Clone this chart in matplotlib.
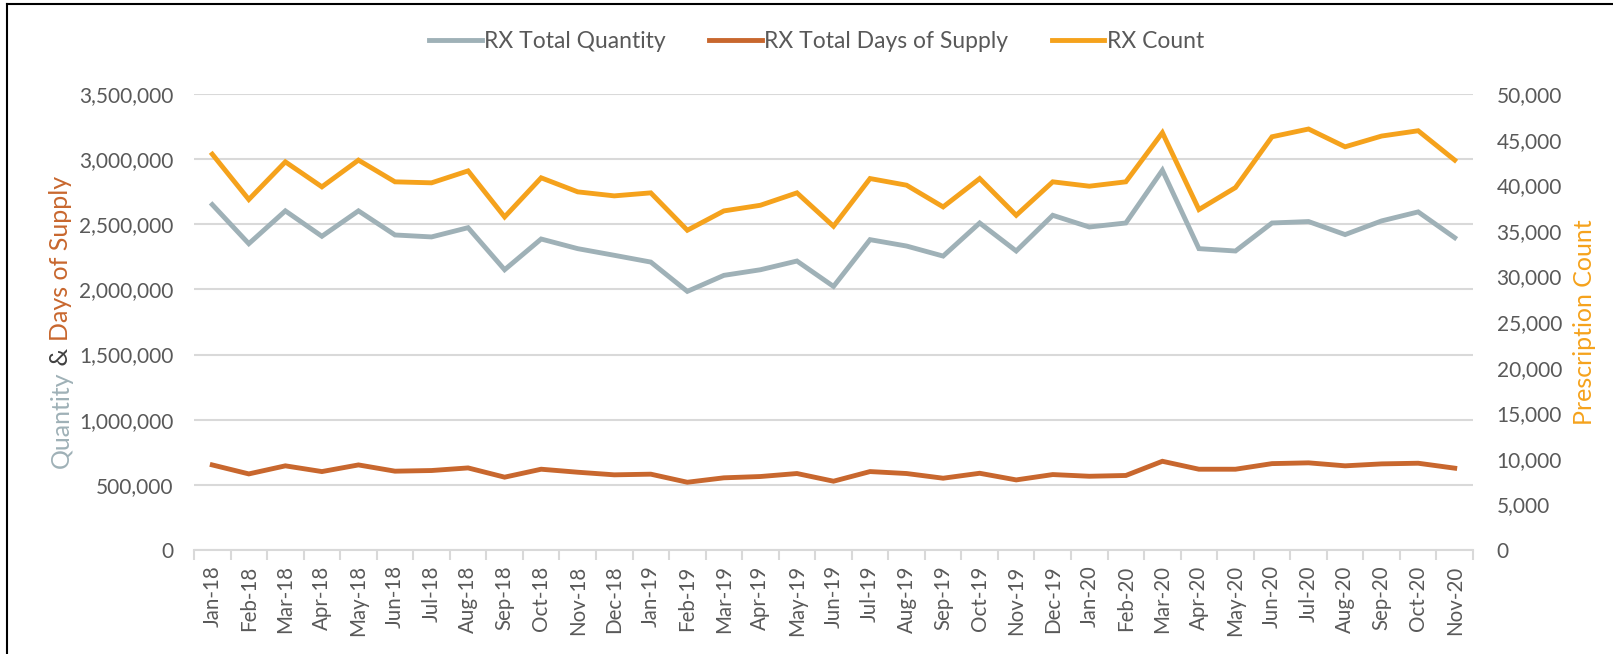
import matplotlib
matplotlib.use("Agg")
import matplotlib.pyplot as plt
from matplotlib.ticker import FuncFormatter, MultipleLocator
from matplotlib.lines import Line2D

months = ["Jan-18", "Feb-18", "Mar-18", "Apr-18", "May-18", "Jun-18", "Jul-18", "Aug-18",
          "Sep-18", "Oct-18", "Nov-18", "Dec-18", "Jan-19", "Feb-19", "Mar-19", "Apr-19",
          "May-19", "Jun-19", "Jul-19", "Aug-19", "Sep-19", "Oct-19", "Nov-19", "Dec-19",
          "Jan-20", "Feb-20", "Mar-20", "Apr-20", "May-20", "Jun-20", "Jul-20", "Aug-20",
          "Sep-20", "Oct-20", "Nov-20"]

rx_total_quantity = [2651000, 2351000, 2603000, 2408000, 2603000, 2418000, 2403000, 2474000,
                     2151000, 2387000, 2313000, 2262000, 2210000, 1985000, 2108000, 2151000,
                     2218000, 2023000, 2382000, 2333000, 2256000, 2510000, 2295000, 2569000,
                     2479000, 2510000, 2915000, 2313000, 2295000, 2510000, 2521000, 2421000,
                     2526000, 2595000, 2397000]

rx_days_supply = [653000, 584000, 646000, 602000, 653000, 605000, 610000, 630000,
                  559000, 620000, 597000, 577000, 582000, 520000, 554000, 564000,
                  587000, 528000, 602000, 587000, 551000, 589000, 538000, 579000,
                  566000, 572000, 681000, 620000, 620000, 663000, 669000, 646000,
                  661000, 666000, 628000]

rx_count = [43400, 38430, 42560, 39820, 42750, 40370, 40260, 41570,
            36520, 40810, 39270, 38830, 39160, 35060, 37180, 37800,
            39160, 35500, 40730, 40000, 37620, 40730, 36700, 40370,
            39890, 40370, 45760, 37330, 39740, 45310, 46160, 44210,
            45390, 45970, 42750]

C_QTY = "#9FB1B7"
C_DAYS = "#C8672E"
C_CNT = "#F5A21C"
C_TXT = "#595959"
C_GRID = "#D9D9D9"
FONT = "Lato"

plt.rcParams["font.family"] = [FONT, "DejaVu Sans"]

fig = plt.figure(figsize=(16.13, 6.54), dpi=100)
ax = fig.add_axes([194/1613, 1-550/654, (1473-194)/1613, (550-94)/654])
ax2 = ax.twinx()

x = list(range(len(months)))
lw = 3.5
l1, = ax.plot(x, rx_total_quantity, color=C_QTY, lw=lw, solid_joinstyle="miter", zorder=3)
l2, = ax.plot(x, rx_days_supply, color=C_DAYS, lw=lw, solid_joinstyle="miter", zorder=3)
l3, = ax2.plot(x, rx_count, color=C_CNT, lw=lw, solid_joinstyle="miter", zorder=3)

ax.set_xlim(-0.5, len(months) - 0.5)
ax.set_ylim(0, 3500000)
ax2.set_ylim(0, 50000)
ax.yaxis.set_major_locator(MultipleLocator(500000))
ax2.yaxis.set_major_locator(MultipleLocator(5000))
fmt = FuncFormatter(lambda v, p: f"{int(round(v)):,}")
ax.yaxis.set_major_formatter(fmt)
ax2.yaxis.set_major_formatter(fmt)

ax.grid(axis="y", color=C_GRID, lw=1.5, zorder=0)
ax.set_axisbelow(True)

for a in (ax, ax2):
    for s in ("top", "right", "left", "bottom"):
        a.spines[s].set_visible(False)
ax.spines["bottom"].set_visible(True)
ax.spines["bottom"].set_color(C_GRID)
ax.spines["bottom"].set_linewidth(1.5)

ax.set_xticks(x)
ax.set_xticklabels(months, rotation=90, fontsize=14.8, color=C_TXT)
ax.tick_params(axis="x", length=0, pad=11)
ax.set_xticks([i + 0.5 for i in range(-1, len(months))], minor=True)
ax.tick_params(axis="x", which="minor", length=7, width=1.5, color=C_GRID)

ax.tick_params(axis="y", length=0, pad=15, labelsize=15, labelcolor=C_TXT)
ax2.tick_params(axis="y", length=0, pad=17, labelsize=15, labelcolor=C_TXT)

fig.legend([l1, l2, l3], ["RX Total Quantity", "RX Total Days of Supply", "RX Count"],
           loc="center", bbox_to_anchor=(0.5 + 10/1613, 1-42/654), ncol=3, frameon=False,
           fontsize=16.5, labelcolor=C_TXT, handlelength=2.3, handletextpad=0.1,
           columnspacing=1.9)

# multi-coloured left axis label
fig.canvas.draw()
renderer = fig.canvas.get_renderer()
parts = [("Quantity", C_QTY), (" & ", "#404040"), ("Days of Supply", C_DAYS)]
lab_fs = 18
texts = []
for s, c in parts:
    t = fig.text(0, 0, s, rotation=90, fontsize=lab_fs, color=c, ha="center", va="bottom",
                 transform=None)
    texts.append(t)
heights = [t.get_window_extent(renderer).height for t in texts]
total = sum(heights)
cx = 61
cy = 322
y0 = (654 - cy) - total / 2
for t, h in zip(texts, heights):
    t.set_position((cx, y0))
    y0 += h

fig.text(1584/1613, 1-322/654, "Prescription Count", rotation=90, fontsize=lab_fs,
         color=C_CNT, ha="center", va="center")

# border lines (top and left)
fig.add_artist(Line2D([7/1613, 7/1613], [0, 1-4/654], transform=fig.transFigure,
                      color="black", lw=1.5))
fig.add_artist(Line2D([7/1613, 1], [1-4/654, 1-4/654], transform=fig.transFigure,
                      color="black", lw=1.5))

fig.savefig("out.png", dpi=100)
